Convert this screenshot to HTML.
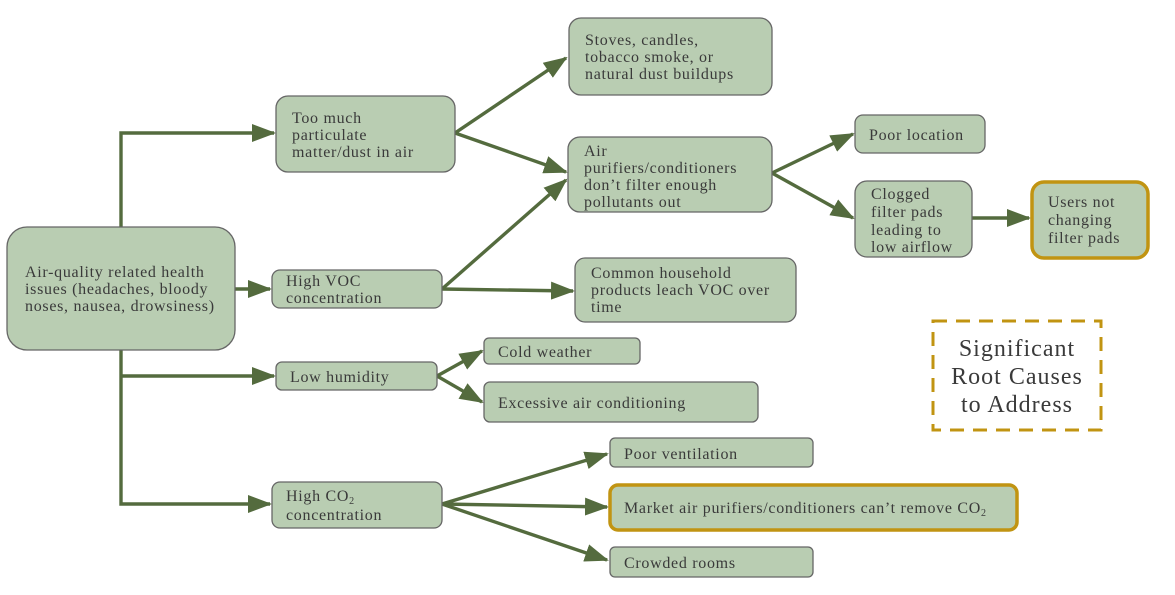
<!DOCTYPE html>
<html><head><meta charset="utf-8"><style>
html,body{margin:0;padding:0;background:#fff;width:1175px;height:595px;overflow:hidden}
svg text{font-family:"Liberation Serif",serif;font-size:16px;letter-spacing:0.7px;fill:#3a3a3a}
.b{fill:#b9cdb2;stroke:#666;stroke-width:1.3}
.g{fill:#b9cdb2;stroke:#c19412;stroke-width:3.5}
.l{stroke:#546b3e;stroke-width:3.4;fill:none}
</style></head><body>
<svg width="1175" height="595" viewBox="0 0 1175 595" xmlns="http://www.w3.org/2000/svg">
<defs><marker id="a" markerWidth="24" markerHeight="18" refX="22" refY="9" orient="auto" markerUnits="userSpaceOnUse"><path d="M0,0 L24,9 L0,18 Z" fill="#546b3e"/></marker></defs>
<polyline class="l" points="121,227 121,133 274,133" marker-end="url(#a)"/>
<line class="l" x1="235" y1="289" x2="270" y2="289" marker-end="url(#a)"/>
<polyline class="l" points="121,350 121,504 270,504" marker-end="url(#a)"/>
<line class="l" x1="121" y1="376" x2="274" y2="376" marker-end="url(#a)"/>
<line class="l" x1="455" y1="133" x2="566" y2="58" marker-end="url(#a)"/>
<line class="l" x1="455" y1="133" x2="566" y2="172" marker-end="url(#a)"/>
<line class="l" x1="442" y1="289" x2="566" y2="180" marker-end="url(#a)"/>
<line class="l" x1="442" y1="289" x2="573" y2="291" marker-end="url(#a)"/>
<line class="l" x1="772" y1="173" x2="853" y2="134" marker-end="url(#a)"/>
<line class="l" x1="772" y1="173" x2="853" y2="218" marker-end="url(#a)"/>
<line class="l" x1="972" y1="218" x2="1029" y2="218" marker-end="url(#a)"/>
<line class="l" x1="437" y1="376" x2="482" y2="351" marker-end="url(#a)"/>
<line class="l" x1="437" y1="376" x2="482" y2="402" marker-end="url(#a)"/>
<line class="l" x1="442" y1="504" x2="607" y2="454" marker-end="url(#a)"/>
<line class="l" x1="442" y1="504" x2="607" y2="507" marker-end="url(#a)"/>
<line class="l" x1="442" y1="504" x2="607" y2="560" marker-end="url(#a)"/>
<rect class="b" x="7" y="227" width="228" height="123" rx="20"/>
<text x="25" y="277">Air-quality related health</text><text x="25" y="294">issues (headaches, bloody</text><text x="25" y="311">noses, nausea, drowsiness)</text>
<rect class="b" x="276" y="96" width="179" height="76" rx="12"/>
<text x="292" y="123">Too much</text><text x="292" y="140">particulate</text><text x="292" y="157">matter/dust in air</text>
<rect class="b" x="272" y="270" width="170" height="38" rx="8"/>
<text x="286" y="286">High VOC</text><text x="286" y="303">concentration</text>
<rect class="b" x="276" y="362" width="161" height="28" rx="6"/>
<text x="290" y="382">Low humidity</text>
<rect class="b" x="272" y="482" width="170" height="46" rx="8"/>
<text x="286" y="501">High CO<tspan font-size="10" dy="3">2</tspan></text><text x="286" y="520">concentration</text>
<rect class="b" x="569" y="18" width="203" height="77" rx="12"/>
<text x="585" y="45">Stoves, candles,</text><text x="585" y="62">tobacco smoke, or</text><text x="585" y="79">natural dust buildups</text>
<rect class="b" x="568" y="137" width="204" height="75" rx="12"/>
<text x="584" y="156">Air</text><text x="584" y="173">purifiers/conditioners</text><text x="584" y="190">don’t filter enough</text><text x="584" y="207">pollutants out</text>
<rect class="b" x="575" y="258" width="221" height="64" rx="10"/>
<text x="591" y="278">Common household</text><text x="591" y="295">products leach VOC over</text><text x="591" y="312">time</text>
<rect class="b" x="484" y="338" width="156" height="26" rx="5"/>
<text x="498" y="357">Cold weather</text>
<rect class="b" x="484" y="382" width="274" height="40" rx="6"/>
<text x="498" y="408">Excessive air conditioning</text>
<rect class="b" x="855" y="115" width="130" height="38" rx="8"/>
<text x="869" y="140">Poor location</text>
<rect class="b" x="855" y="181" width="117" height="76" rx="12"/>
<text x="871" y="199">Clogged</text><text x="871" y="217">filter pads</text><text x="871" y="235">leading to</text><text x="871" y="252">low airflow</text>
<rect class="g" x="1032" y="182" width="116" height="76" rx="12"/>
<text x="1048" y="207">Users not</text><text x="1048" y="225">changing</text><text x="1048" y="243">filter pads</text>
<rect x="933" y="321" width="168" height="109" fill="none" stroke="#c19412" stroke-width="3" stroke-dasharray="14,9"/>
<text x="1017" y="356" text-anchor="middle" style="font-size:24px;letter-spacing:1px">Significant</text>
<text x="1017" y="384" text-anchor="middle" style="font-size:24px;letter-spacing:1px">Root Causes</text>
<text x="1017" y="412" text-anchor="middle" style="font-size:24px;letter-spacing:1px">to Address</text>
<rect class="b" x="610" y="438" width="203" height="29" rx="5"/>
<text x="624" y="459">Poor ventilation</text>
<rect class="g" x="610" y="485" width="407" height="45" rx="8"/>
<text x="624" y="513">Market air purifiers/conditioners can’t remove CO<tspan font-size="10" dy="3">2</tspan></text>
<rect class="b" x="610" y="547" width="203" height="30" rx="5"/>
<text x="624" y="568">Crowded rooms</text>
</svg>
</body></html>
